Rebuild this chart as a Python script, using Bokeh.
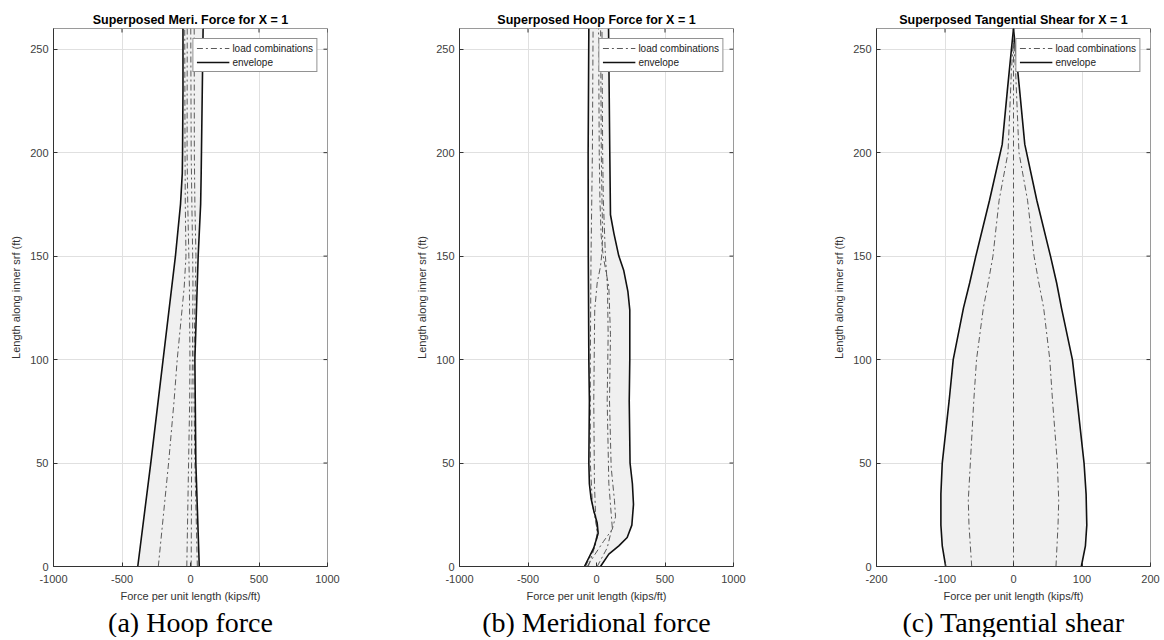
import math
from bokeh.plotting import figure
from bokeh.models import Range1d, FixedTicker, Title, Legend, LegendItem
from bokeh.layouts import row
from bokeh.embed import file_html
from bokeh.resources import INLINE

# ---------------- data ----------------
# (a) Superposed Meri. Force
A_env_y_l = [0, 50, 100, 150, 175, 190, 200, 230, 260]
A_env_x_l = [-385, -290, -200, -110, -73, -60, -58, -55, -55]
A_env_y_r = [0, 50, 100, 150, 175, 190, 200, 230, 260]
A_env_x_r = [64, 39, 32, 56, 74, 78, 80, 86, 92]
A_lc_y = [0, 50, 80, 100, 135, 150, 175, 200, 260]
A_lc1 = [-235, -160, -120, -97, -46, -33, -38, -40, -42]
A_lc2 = [-27, -14, -6, -4, -8, -12, -20, -25, -24]
A_lc3 = [5, 8, 10, 14, 18, 16, 10, 5, 2]
A_lc4 = [50, 32, 26, 25, 35, 40, 32, 28, 27]

# (b) Superposed Hoop Force
B_env_y_l = [0, 9, 16, 21, 27, 33, 40, 50, 80, 100, 150, 200, 260]
B_env_x_l = [-88, -20, 12, 5, -20, -40, -52, -56, -52, -56, -60, -61, -56]
B_env_y_r = [0, 6, 10, 14, 20, 30, 40, 50, 80, 100, 124, 133, 143, 150, 161, 170, 200, 260]
B_env_x_r = [29, 90, 163, 224, 258, 270, 262, 245, 239, 243, 243, 229, 199, 163, 127, 102, 97, 88]
B_lc1_y = [0, 6, 12, 18, 24, 32, 48, 80, 112, 135, 150, 160, 177, 200, 260]
B_lc1_x = [-68, -10, 50, 115, 139, 131, 107, 95, 102, 90, 49, 34, 25, 20, 15]
B_lc2_y = [0, 8, 16, 22, 40, 80, 124, 137, 145, 151, 160, 177, 200, 260]
B_lc2_x = [-60, -20, 5, -5, -15, -20, -13, 5, 29, 39, 45, 40, 35, 30]
B_lc3_y = [0, 9, 19, 40, 80, 112, 135, 150, 177, 200, 260]
B_lc3_x = [5, 78, 115, 90, 78, 85, 80, 65, 50, 45, 40]
B_lc4_y = [0, 10, 16, 30, 50, 100, 150, 200, 260]
B_lc4_x = [-80, -10, 12, -30, -45, -45, -40, -30, -25]

# (c) Superposed Tangential Shear
C_env_y = [0, 10, 20, 35, 50, 80, 100, 125, 137, 150, 177, 204, 230, 250, 260]
C_env_x_l = [-99, -104, -106, -106, -104, -94, -88, -73, -64, -55, -35, -16.5, -9, -3, 0]
C_env_x_r = [99, 105, 107, 106, 103, 93, 86, 70, 63, 54, 34, 16.5, 9, 3, 0]
C_lc_y = [0, 20, 32, 50, 80, 100, 125, 137, 150, 177, 200, 240, 255]
C_lc_l = [-61, -65, -66, -63, -58, -54, -44, -37, -30, -21, -8, -3, 0]
C_lc_r = [62, 65, 66, 64, 57, 53, 44, 37, 30, 20.5, 8, 3, 0]
C_lc_c_y = [0, 255]
C_lc_c_x = [0, 0]

Y_RANGE = (0, 260)
Y_TICKS = [0, 50, 100, 150, 200, 250]
AB_X_RANGE = (-1000, 1000)
AB_X_TICKS = [-1000, -500, 0, 500, 1000]
C_X_RANGE = (-200, 200)
C_X_TICKS = [-200, -100, 0, 100, 200]

TITLES = ["Superposed Meri. Force for X = 1",
          "Superposed Hoop Force for X = 1",
          "Superposed Tangential Shear for X = 1"]
CAPTIONS = ["(a) Hoop force", "(b) Meridional force", "(c) Tangential shear"]
X_LABEL = "Force per unit length (kips/ft)"
Y_LABEL = "Length along inner srf (ft)"

SANS = "Liberation Sans"
SERIF = "Liberation Serif"
AX = "#333333"
LC_COLOR = "#5a5a5a"
ENV_COLOR = "#111111"
FILL = "#f0f0f0"


def panel(title, caption, xr, xticks, env_l, env_r, lcs, left, right):
    p = figure(frame_width=274, frame_height=538,
               x_range=Range1d(*xr), y_range=Range1d(*Y_RANGE),
               output_backend="svg", toolbar_location=None,
               min_border_left=left, min_border_right=right,
               min_border_top=28, min_border_bottom=70)
    p.background_fill_color = "white"
    p.outline_line_color = "#9a9a9a"
    p.outline_line_width = 1

    p.title.text = title
    p.title.align = "center"
    p.title.text_font = SANS
    p.title.text_font_size = "12.5px"
    p.title.text_font_style = "bold"
    p.title.text_color = "black"
    p.title.standoff = 3

    for ax, ticks, lab in ((p.xaxis[0], xticks, X_LABEL), (p.yaxis[0], Y_TICKS, Y_LABEL)):
        ax.ticker = FixedTicker(ticks=ticks)
        ax.major_label_overrides = {t: str(t) for t in ticks}
        ax.axis_label = lab
        ax.axis_label_text_font = SANS
        ax.axis_label_text_font_size = "11px"
        ax.axis_label_text_font_style = "normal"
        ax.axis_label_text_color = "#333333"
        ax.major_label_text_font = SANS
        ax.major_label_text_font_size = "11px"
        ax.major_label_text_color = "#404040"
        ax.major_tick_in = 4
        ax.major_tick_out = 0
        ax.minor_tick_line_color = None
        ax.axis_line_color = AX
        ax.major_tick_line_color = AX
    p.xaxis.major_label_standoff = 8
    p.xaxis.axis_label_standoff = 4
    p.yaxis.major_label_standoff = 5
    p.yaxis.axis_label_standoff = 5

    # inward ticks on the top and right frame edges
    p.ray(x=[xr[1]] * len(Y_TICKS), y=Y_TICKS, length=4, angle=math.pi,
          length_units="screen", line_color=AX, line_width=1)
    p.ray(x=xticks, y=[Y_RANGE[1]] * len(xticks), length=4, angle=-math.pi / 2,
          length_units="screen", line_color=AX, line_width=1)

    p.xgrid.ticker = FixedTicker(ticks=xticks)
    p.ygrid.ticker = FixedTicker(ticks=Y_TICKS)
    p.grid.grid_line_color = "#e0e0e0"
    p.grid.grid_line_width = 1

    # shaded envelope region
    (yl, xl), (yr, xrr) = env_l, env_r
    p.patch(list(xl) + list(reversed(xrr)), list(yl) + list(reversed(yr)),
            fill_color=FILL, line_color=None)

    lc_rs = []
    for ly, lx in lcs:
        lc_rs.append(p.line(lx, ly, line_color=LC_COLOR, line_width=1, line_dash="6 3 2 3"))
    e1 = p.line(xl, yl, line_color=ENV_COLOR, line_width=1.6)
    p.line(xrr, yr, line_color=ENV_COLOR, line_width=1.6)

    leg = Legend(items=[LegendItem(label="load combinations", renderers=[lc_rs[0]]),
                        LegendItem(label="envelope", renderers=[e1])],
                 location="top_right")
    leg.label_text_font = SANS
    leg.label_text_font_size = "10px"
    leg.label_text_color = "#222222"
    leg.glyph_width = 33
    leg.glyph_height = 12
    leg.label_height = 12
    leg.label_standoff = 3
    leg.spacing = 2
    leg.padding = 3
    leg.margin = 10
    leg.border_line_color = "#262626"
    leg.border_line_width = 1
    leg.background_fill_color = "white"
    leg.background_fill_alpha = 1
    p.add_layout(leg, "center")

    cap = Title(text=caption, align="center", text_font=SERIF, text_font_size="28px",
                text_font_style="normal", text_color="black", standoff=0)
    p.add_layout(cap, "below")
    return p


pa = panel(TITLES[0], CAPTIONS[0], AB_X_RANGE, AB_X_TICKS,
           (A_env_y_l, A_env_x_l), (A_env_y_r, A_env_x_r),
           [(A_lc_y, A_lc1), (A_lc_y, A_lc2), (A_lc_y, A_lc3), (A_lc_y, A_lc4)],
           53, 63)
pb = panel(TITLES[1], CAPTIONS[1], AB_X_RANGE, AB_X_TICKS,
           (B_env_y_l, B_env_x_l), (B_env_y_r, B_env_x_r),
           [(B_lc1_y, B_lc1_x), (B_lc2_y, B_lc2_x), (B_lc3_y, B_lc3_x), (B_lc4_y, B_lc4_x)],
           69, 37)
pc = panel(TITLES[2], CAPTIONS[2], C_X_RANGE, C_X_TICKS,
           (C_env_y, C_env_x_l), (C_env_y, C_env_x_r),
           [(C_lc_y, C_lc_l), (C_lc_c_y, C_lc_c_x), (C_lc_y, C_lc_r)],
           106, 10)

layout = row(pa, pb, pc)
open("out.html", "w").write(file_html(layout, INLINE))
